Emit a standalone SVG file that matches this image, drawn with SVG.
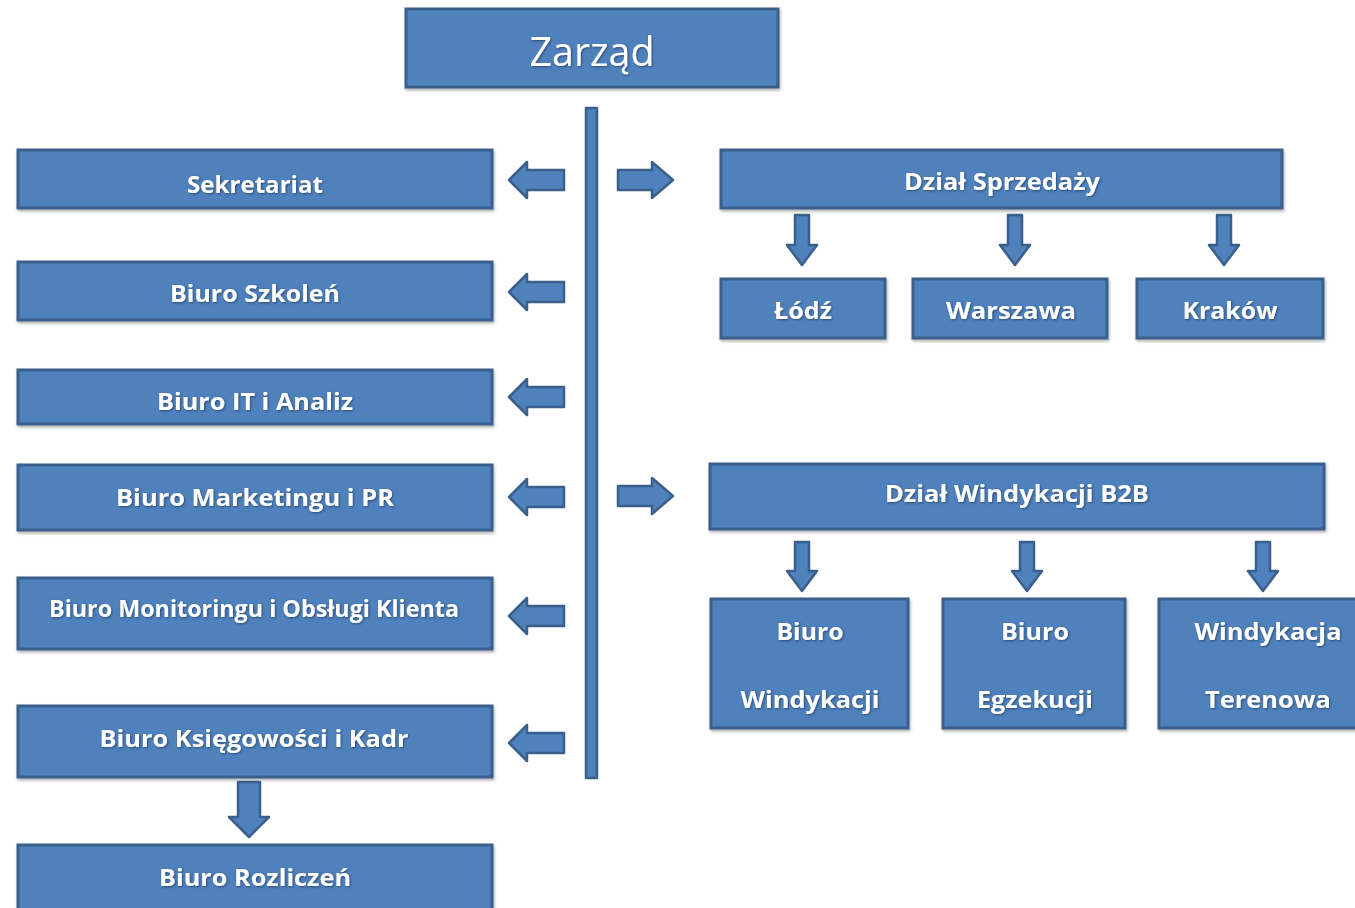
<svg xmlns="http://www.w3.org/2000/svg" width="1355" height="908" viewBox="0 0 1355 908">
<defs>
<filter id="sh" x="-5%" y="-10%" width="110%" height="130%">
<feDropShadow dx="1" dy="2" stdDeviation="1.5" flood-color="#000" flood-opacity="0.3"/>
</filter>
<filter id="tsh" x="-5%" y="-20%" width="110%" height="140%">
<feDropShadow dx="1" dy="1" stdDeviation="0.8" flood-color="#1c3553" flood-opacity="0.7"/>
</filter>
</defs>
<style>
.box{fill:#4F81BD;stroke:#3A5F8B;stroke-width:3;filter:url(#sh)}
.arr{fill:#4F81BD;stroke:#3A5F8B;stroke-width:2.5;stroke-linejoin:round}
.t{fill:#fff;font-family:"Open Sans","Liberation Sans",sans-serif;font-weight:700;font-size:23px;text-anchor:middle;filter:url(#tsh)}
.tz{fill:#fff;font-family:"Open Sans","Liberation Sans",sans-serif;font-weight:400;font-size:41px;text-anchor:middle;filter:url(#tsh)}
</style>
<rect width="1355" height="908" fill="#fff"/>
<g id="zarzad"><rect class="box" x="406" y="9" width="372" height="78"/><text class="tz" x="592" y="66" textLength="125" lengthAdjust="spacingAndGlyphs">Zarząd</text></g>
<g id="sekretariat"><rect class="box" x="18" y="150" width="474" height="58"/><text class="t" x="255" y="193" textLength="136" lengthAdjust="spacingAndGlyphs">Sekretariat</text></g>
<g id="szkolen"><rect class="box" x="18" y="262" width="474" height="58"/><text class="t" x="255" y="302" textLength="170" lengthAdjust="spacingAndGlyphs">Biuro Szkoleń</text></g>
<g id="it"><rect class="box" x="18" y="370" width="474" height="54"/><text class="t" x="255" y="410" textLength="196" lengthAdjust="spacingAndGlyphs">Biuro IT i Analiz</text></g>
<g id="marketing"><rect class="box" x="18" y="465" width="474" height="65"/><text class="t" x="255" y="506" textLength="278" lengthAdjust="spacingAndGlyphs">Biuro Marketingu i PR</text></g>
<g id="monitoring"><rect class="box" x="18" y="578" width="474" height="71"/><text class="t" x="254" y="617" textLength="410" lengthAdjust="spacingAndGlyphs">Biuro Monitoringu i Obsługi Klienta</text></g>
<g id="ksiegowosc"><rect class="box" x="18" y="706" width="474" height="71"/><text class="t" x="254" y="747" textLength="309" lengthAdjust="spacingAndGlyphs">Biuro Księgowości i Kadr</text></g>
<g id="rozliczen"><rect class="box" x="18" y="845" width="474" height="72"/><text class="t" x="255" y="886" textLength="192" lengthAdjust="spacingAndGlyphs">Biuro Rozliczeń</text></g>
<g id="sprzedaz"><rect class="box" x="721" y="150" width="561" height="58"/><text class="t" x="1002" y="190" textLength="196" lengthAdjust="spacingAndGlyphs">Dział Sprzedaży</text></g>
<g id="lodz"><rect class="box" x="721" y="279" width="164" height="59"/><text class="t" x="803" y="319" textLength="58" lengthAdjust="spacingAndGlyphs">Łódź</text></g>
<g id="warszawa"><rect class="box" x="913" y="279" width="194" height="59"/><text class="t" x="1011" y="319" textLength="130" lengthAdjust="spacingAndGlyphs">Warszawa</text></g>
<g id="krakow"><rect class="box" x="1137" y="279" width="186" height="59"/><text class="t" x="1230" y="319" textLength="95" lengthAdjust="spacingAndGlyphs">Kraków</text></g>
<g id="windykacjab2b"><rect class="box" x="710" y="464" width="614" height="65"/><text class="t" x="1017" y="502" textLength="264" lengthAdjust="spacingAndGlyphs">Dział Windykacji B2B</text></g>
<g id="biurowindykacji"><rect class="box" x="711" y="599" width="197" height="129"/><text class="t" x="810" y="640" textLength="67" lengthAdjust="spacingAndGlyphs">Biuro</text><text class="t" x="810" y="708" textLength="139" lengthAdjust="spacingAndGlyphs">Windykacji</text></g>
<g id="biuroegzekucji"><rect class="box" x="943" y="599" width="182" height="129"/><text class="t" x="1035" y="640" textLength="68" lengthAdjust="spacingAndGlyphs">Biuro</text><text class="t" x="1035" y="708" textLength="116" lengthAdjust="spacingAndGlyphs">Egzekucji</text></g>
<g id="windykacjaterenowa"><rect class="box" x="1159" y="599" width="205" height="129"/><text class="t" x="1268" y="640" textLength="147" lengthAdjust="spacingAndGlyphs">Windykacja</text><text class="t" x="1268" y="708" textLength="126" lengthAdjust="spacingAndGlyphs">Terenowa</text></g>
<g id="connectors">
<rect class="arr" x="586" y="108" width="11" height="670"/>
<path class="arr" d="M509,180 L527,162 L527,170 L564,170 L564,190 L527,190 L527,198 Z"/>
<path class="arr" d="M509,292 L527,274 L527,282 L564,282 L564,302 L527,302 L527,310 Z"/>
<path class="arr" d="M509,397 L527,379 L527,387 L564,387 L564,407 L527,407 L527,415 Z"/>
<path class="arr" d="M509,497 L527,479 L527,487 L564,487 L564,507 L527,507 L527,515 Z"/>
<path class="arr" d="M509,616 L527,598 L527,606 L564,606 L564,626 L527,626 L527,634 Z"/>
<path class="arr" d="M509,743 L527,725 L527,733 L564,733 L564,753 L527,753 L527,761 Z"/>
<path class="arr" d="M673,180 L652,162 L652,170 L618,170 L618,190 L652,190 L652,198 Z"/>
<path class="arr" d="M673,496 L652,478 L652,486 L618,486 L618,506 L652,506 L652,514 Z"/>
<path class="arr" d="M802,265 L787,245 L795,245 L795,215 L809,215 L809,245 L817,245 Z"/>
<path class="arr" d="M1015,265 L1000,245 L1008,245 L1008,215 L1022,215 L1022,245 L1030,245 Z"/>
<path class="arr" d="M1224,265 L1209,245 L1217,245 L1217,215 L1231,215 L1231,245 L1239,245 Z"/>
<path class="arr" d="M802,591 L787,571 L795,571 L795,542 L809,542 L809,571 L817,571 Z"/>
<path class="arr" d="M1027,591 L1012,571 L1020,571 L1020,542 L1034,542 L1034,571 L1042,571 Z"/>
<path class="arr" d="M1263,591 L1248,571 L1256,571 L1256,542 L1270,542 L1270,571 L1278,571 Z"/>
<path class="arr" d="M249,837 L229,817 L238,817 L238,782 L260,782 L260,817 L269,817 Z"/>
</g>
</svg>
